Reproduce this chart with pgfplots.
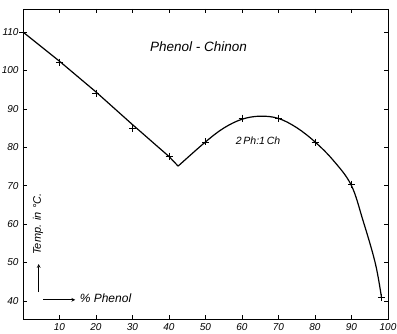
\documentclass[border=0pt]{standalone}
\usepackage{fontspec}
\setmainfont{Liberation Sans}
\usepackage{pgfplots}
\pgfplotsset{compat=1.18}
\begin{document}
\begin{tikzpicture}
\begin{axis}[
  scale only axis, width=365pt, height=310pt,
  xmin=0, xmax=100, ymin=35.3, ymax=116,
  axis line style={line width=0.9pt},
  xtick={10,20,30,40,50,60,70,80,90,100},
  ytick={40,50,60,70,80,90,100,110},
  tick align=inside, major tick length=4pt,
  tick style={line width=0.7pt, black},
  /pgf/number format/assume math mode=true,
  tick label style={font=\itshape\fontsize{10}{10}\selectfont},
  xticklabel style={yshift=-1pt},
  yticklabel style={xshift=-1pt},
  clip=false,
]
% curve, left branch
\addplot[black, line width=1.2pt, mark=none] coordinates {
 (0,110) (10,102.4) (20,94.4) (30,85.9) (40,77.6) (42.5,75.1)};
% curve, right branch (compound 2Ph:1Ch)
\addplot[black, line width=1.2pt, mark=none, smooth, tension=0.6] coordinates {
 (42.5,75.1) (50,81.4) (55,85.0) (60,87.3) (65,88.1) (70,87.5)
 (75,85.1) (80,81.4) (85,76.6) (89.9,70.2) (93.1,61.1) (96.5,49.9) (98.2,41.0)};
% observed points
\addplot[only marks, mark=+, mark size=3.5pt, black, line width=0.8pt] coordinates {
 (0,110) (10,102.2) (20,94.1) (30,85) (40,77.7) (50,81.4) (60,87.6)
 (70,87.6) (80,81.3) (90,70.4) (98.2,41.0)};
\node[font=\itshape\fontsize{13.5}{14}\selectfont] at (axis cs:48.1,106.1) {Phenol - Chinon};
\node[font=\itshape\fontsize{10.5}{11}\selectfont] at (axis cs:64.4,81.6) {2\,Ph:1\,Ch};
\node[font=\itshape\fontsize{11}{12}\selectfont, rotate=90] at (axis cs:4.1,60) {Temp. in °C.};
\draw[-stealth, line width=0.7pt] (axis cs:4.3,42.3) -- (axis cs:4.3,49.6);
\draw[-stealth, line width=0.7pt] (axis cs:5.6,40.3) -- (axis cs:14.3,40.3);
\node[font=\itshape\fontsize{12}{12}\selectfont, anchor=west] at (axis cs:14.6,40.8) {\% Phenol};
\end{axis}
\pgfresetboundingbox
\path ([xshift=-23pt,yshift=-15pt]current axis.south west) rectangle ([xshift=9pt,yshift=9pt]current axis.north east);
\end{tikzpicture}
\end{document}
